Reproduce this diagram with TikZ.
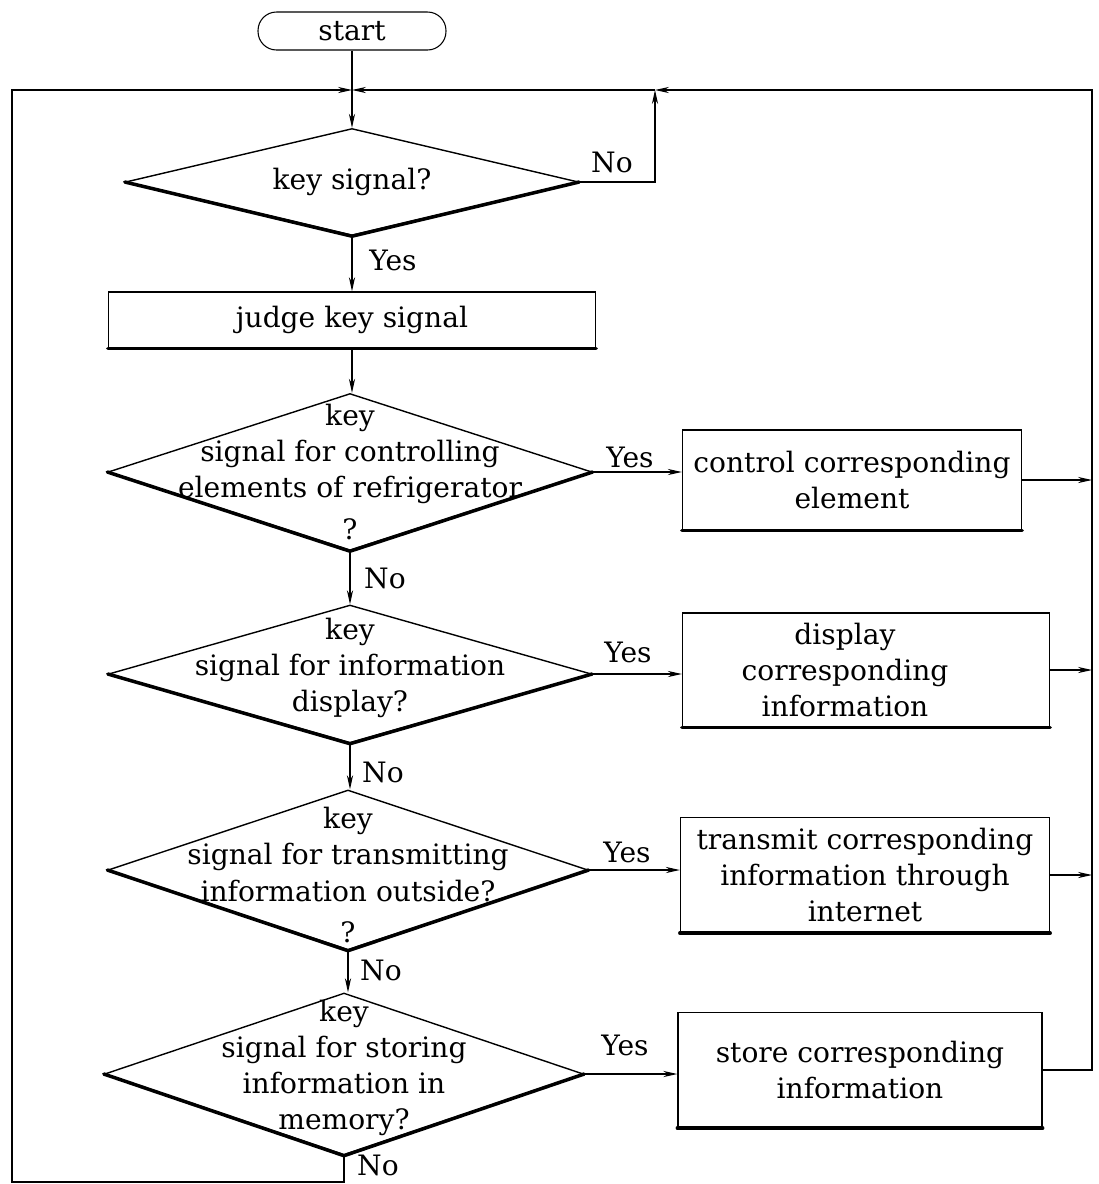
\documentclass[tikz,border=0pt]{standalone}
\usepackage{fontspec}
\setmainfont{DejaVu Serif}
\usepackage{tikz}
\usetikzlibrary{calc,shapes.geometric,arrows.meta}
\newcommand{\flowfont}{\fontsize{16}{20.5}\selectfont}
\tikzset{
    every node/.style={font=\flowfont},
    decision/.style={diamond,draw,line width=0.8pt,inner sep=0pt},
    process/.style={rectangle,draw,line width=0.8pt,align=center},
    terminal/.style={rectangle,rounded corners=0.37cm,draw,line width=0.6pt},
    quest/.style={align=center,inner sep=0pt},
    heavy/.style={line width=2pt,line cap=round,line join=round},
    wire/.style={line width=0.6pt},
    flow/.style={wire,-{Stealth[length=8pt,width=3.5pt]}},
}
\newcommand{\prheavyd}[1]{\draw[heavy] (#1.west) -- (#1.south) -- (#1.east);}
\newcommand{\prheavyb}[1]{\draw[heavy] (#1.south west) -- (#1.south east);}

\begin{document}
\begin{tikzpicture}[x=0.02cm,y=-0.02cm]

    \useasboundingbox (0,0) rectangle (1099,1184);

    \node[terminal,minimum width=3.76cm,minimum height=0.76cm] (st) at (352,31) {start};

    % decisions
    \node[decision,minimum width=9.06cm,minimum height=2.14cm] (d1) at (352,182) {};
    \node[decision,minimum width=9.68cm,minimum height=3.14cm] (d2) at (350,472) {};
    \node[decision,minimum width=9.66cm,minimum height=2.76cm] (d3) at (350,674) {};
    \node[decision,minimum width=9.60cm,minimum height=3.20cm] (d4) at (348,870) {};
    \node[decision,minimum width=9.58cm,minimum height=3.24cm] (d5) at (344,1074) {};

    \prheavyd{d1}
    \prheavyd{d2}
    \prheavyd{d3}
    \prheavyd{d4}
    \prheavyd{d5}

    \node[quest] (q1) at (d1) {key signal?};
    \node[quest] (q2) at (350,472) {key\\signal for controlling\\elements of refrigerator\\[0.12cm]?};
    \node[quest] (q3) at (350,668) {key\\signal for information\\display?};
    \node[quest] (q4) at (348,875) {key\\signal for transmitting\\information outside?\\[0.1cm]?};
    \node[quest] (q5) at (344,1068) {key\\signal for storing\\information in\\memory?};

    % processes
    \node[process,minimum width=9.74cm,minimum height=1.12cm] (b1) at (352,320) {judge key signal};
    \node[process,minimum width=6.78cm,minimum height=2.00cm] (b2) at (852,480) {control corresponding\\element};
    \node[process,minimum width=7.34cm,minimum height=2.28cm] (b3) at (866,670) {};
    \node[quest] (b3t) at (845,670) {display\\corresponding\\information};
    \node[process,minimum width=7.38cm,minimum height=2.30cm] (b4) at (865,875) {transmit corresponding\\information through\\internet};
    \node[process,minimum width=7.28cm,minimum height=2.30cm] (b5) at (860,1070) {store corresponding\\information};

    \prheavyb{b1}
    \prheavyb{b2}
    \prheavyb{b3}
    \prheavyb{b4}
    \prheavyb{b5}

    % loop corners
    \coordinate (tl) at (12,90);
    \coordinate (bl) at (12,1182);
    \coordinate (tr) at (1092,90);
    \coordinate (nj) at (655,90);
    \coordinate (jn) at (st.south |- tl);

    \draw[flow] (st.south) -- (d1.north);
    \draw[flow] (d1.south) -- (d1.south |- b1.north);
    \draw[flow] (b1.south) -- (b1.south |- d2.north);
    \draw[flow] (d2.south) -- (d2.south |- d3.north);
    \draw[flow] (d3.south) -- (d3.south |- d4.north);
    \draw[flow] (d4.south) -- (d4.south |- d5.north);

    \draw[flow] (d1.east) -- (d1.east -| nj) -- (nj);
    \draw[flow] (d5.south) -- (d5.south |- bl) -- (bl) -- (tl) -- (jn);
    \draw[flow] (b5.east) -- (b5.east -| tr) -- (tr) -- (nj);
    \draw[flow] (nj) -- (jn);

    \draw[flow] (d2.east) -- (d2.east -| b2.west);
    \draw[flow] (d3.east) -- (d3.east -| b3.west);
    \draw[flow] (d4.east) -- (d4.east -| b4.west);
    \draw[flow] (d5.east) -- (d5.east -| b5.west);

    \draw[flow] (b2.east) -- (b2.east -| tr);
    \draw[flow] (b3.east) -- (b3.east -| tr);
    \draw[flow] (b4.east) -- (b4.east -| tr);

    % answers
    \node (n1) at (612,162) {No};
    \node (y1) at (393,260) {Yes};
    \node (n2) at (385,578) {No};
    \node (y2) at (630,457) {Yes};
    \node (n3) at (383,772) {No};
    \node (y3) at (628,652) {Yes};
    \node (n4) at (381,970) {No};
    \node (y4) at (627,852) {Yes};
    \node (n5) at (378,1165) {No};
    \node (y5) at (625,1045) {Yes};

\end{tikzpicture}
\end{document}
